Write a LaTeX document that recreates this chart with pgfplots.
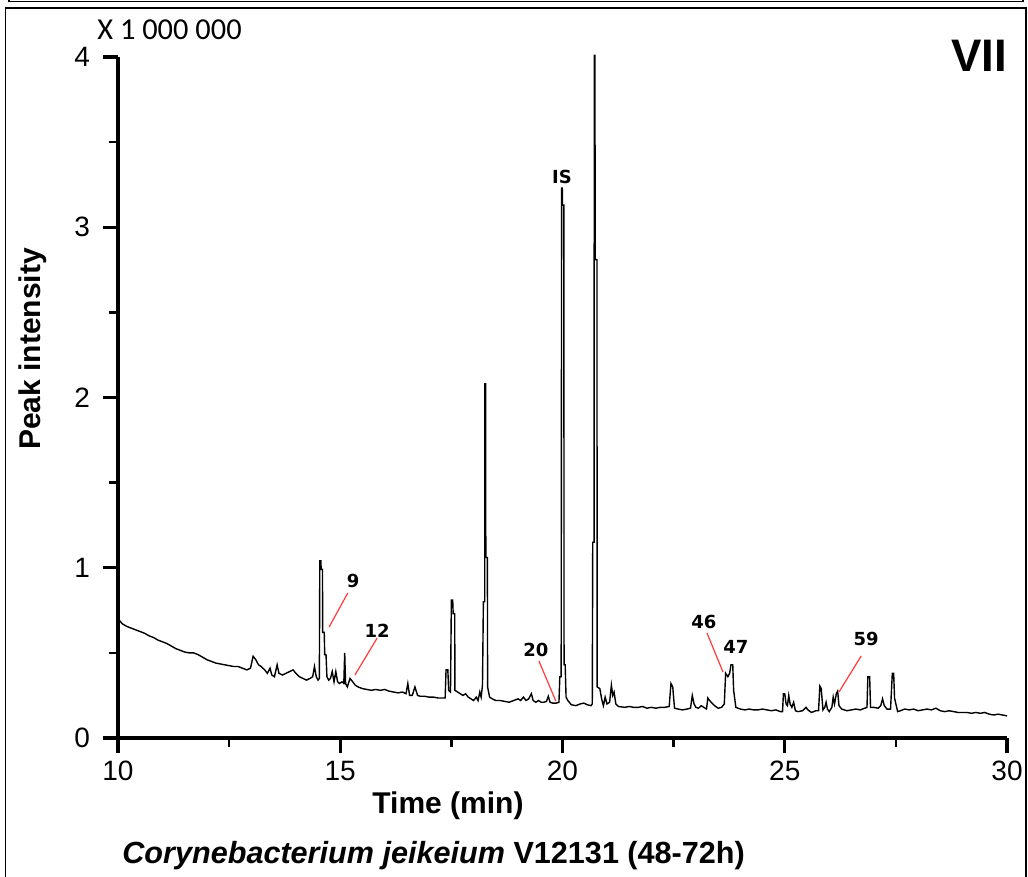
\documentclass[border=0pt]{standalone}
\usepackage{fontspec}
\setmainfont{Liberation Sans}
\newfontfamily\carlito{Carlito}
\newfontfamily\dejavu{DejaVu Sans}
\usepackage{pgfplots}
\pgfplotsset{compat=1.18}
\definecolor{annred}{RGB}{255,60,60}
\begin{document}
\begin{tikzpicture}
\useasboundingbox (0,0) rectangle (514pt,438.5pt);
\fill[white] (0,0) rectangle (514pt,438.5pt);
\begin{axis}[
  at={(59pt,69.5pt)}, anchor=south west,
  scale only axis, width=444.5pt, height=340.5pt,
  xmin=10, xmax=30, ymin=0, ymax=4,
  axis lines=left, axis line style={-, line width=1.6pt},
  xtick={10,15,20,25,30}, ytick={0,1,2,3,4},
  minor xtick={12.5,17.5,22.5,27.5}, minor ytick={0.5,1.5,2.5,3.5},
  tick align=outside, tick pos=left,
  major tick length=7.5pt, minor tick length=4.5pt,
  major tick style={line width=1.6pt,black},
  minor tick style={line width=1.2pt,black},
  /pgf/number format/assume math mode=true,
  tick label style={font=\fontsize{14}{16}\selectfont},
  yticklabel style={xshift=-3pt},
  xticklabel style={yshift=-0.5pt},
  clip=false,
]
\addplot[black, line width=0.7pt, mark=none] coordinates {
(10.00,0.70) (10.10,0.67) (10.20,0.655) (10.30,0.645) (10.40,0.635) (10.50,0.625)
(10.60,0.615) (10.70,0.60) (10.80,0.59) (10.90,0.575) (11.00,0.565) (11.10,0.555)
(11.20,0.54) (11.30,0.525) (11.40,0.515) (11.50,0.505) (11.60,0.50) (11.70,0.50)
(11.80,0.49) (11.90,0.475) (12.00,0.46) (12.10,0.45) (12.20,0.44) (12.30,0.435)
(12.40,0.43) (12.50,0.425) (12.60,0.42) (12.70,0.42) (12.80,0.41) (12.90,0.40)
(12.98,0.41) (13.04,0.48) (13.10,0.46) (13.16,0.43) (13.22,0.42) (13.30,0.40)
(13.36,0.38) (13.42,0.41) (13.46,0.37) (13.52,0.36) (13.58,0.43) (13.62,0.38)
(13.70,0.37) (13.78,0.38) (13.86,0.39) (13.94,0.40) (14.00,0.38) (14.08,0.36)
(14.16,0.35) (14.24,0.34) (14.32,0.35) (14.38,0.36) (14.42,0.42) (14.46,0.36)
(14.50,0.34) (14.53,0.35) (14.54,1.04) (14.565,1.04) (14.57,0.99) (14.60,0.99)
(14.605,0.62) (14.64,0.62) (14.65,0.49) (14.68,0.49) (14.70,0.36) (14.74,0.34)
(14.78,0.35) (14.82,0.39) (14.86,0.33) (14.90,0.39) (14.94,0.33) (14.98,0.32)
(15.04,0.33) (15.08,0.32) (15.10,0.50) (15.12,0.32) (15.16,0.30) (15.22,0.35)
(15.28,0.33) (15.34,0.31) (15.40,0.30) (15.50,0.29) (15.60,0.285) (15.70,0.28)
(15.80,0.285) (15.90,0.28) (16.00,0.285) (16.10,0.275) (16.20,0.27) (16.30,0.265)
(16.40,0.27) (16.48,0.26) (16.52,0.32) (16.56,0.25) (16.62,0.25) (16.68,0.30)
(16.74,0.25) (16.80,0.245) (16.90,0.245) (17.00,0.24) (17.10,0.24) (17.20,0.235)
(17.30,0.235) (17.36,0.235) (17.38,0.40) (17.42,0.40) (17.44,0.28) (17.48,0.27)
(17.50,0.81) (17.53,0.81) (17.54,0.73) (17.575,0.73) (17.58,0.28) (17.64,0.27)
(17.70,0.26) (17.76,0.25) (17.82,0.26) (17.88,0.24) (17.94,0.23) (18.00,0.22)
(18.06,0.24) (18.10,0.22) (18.14,0.27) (18.17,0.24) (18.20,0.31) (18.22,0.80)
(18.25,0.80) (18.255,2.08) (18.27,2.08) (18.275,1.06) (18.31,1.06) (18.315,0.30)
(18.36,0.24) (18.42,0.23) (18.50,0.22) (18.60,0.22) (18.70,0.215) (18.80,0.21)
(18.90,0.22) (19.00,0.23) (19.06,0.22) (19.12,0.24) (19.18,0.22) (19.24,0.23)
(19.30,0.26) (19.34,0.22) (19.40,0.21) (19.46,0.22) (19.52,0.21) (19.58,0.21)
(19.64,0.215) (19.68,0.245) (19.72,0.21) (19.78,0.205) (19.86,0.205) (19.92,0.21)
(19.94,0.36) (19.97,0.36) (19.98,3.23) (19.995,3.23) (20.00,3.13) (20.03,3.13)
(20.035,0.43) (20.06,0.43) (20.08,0.24) (20.12,0.22) (20.20,0.195) (20.30,0.19)
(20.40,0.20) (20.48,0.205) (20.56,0.195) (20.64,0.19) (20.67,0.20) (20.68,1.15)
(20.71,1.15) (20.715,4.01) (20.73,4.01) (20.735,2.81) (20.775,2.81) (20.78,0.30)
(20.84,0.29) (20.88,0.23) (20.92,0.19) (20.96,0.24) (21.00,0.20) (21.06,0.21)
(21.10,0.31) (21.13,0.25) (21.16,0.27) (21.20,0.20) (21.26,0.185) (21.40,0.18)
(21.50,0.185) (21.60,0.18) (21.70,0.18) (21.80,0.185) (21.90,0.175) (22.00,0.18)
(22.10,0.175) (22.20,0.18) (22.30,0.18) (22.40,0.185) (22.44,0.32) (22.48,0.30)
(22.52,0.175) (22.60,0.17) (22.70,0.165) (22.80,0.17) (22.88,0.175) (22.92,0.25)
(22.96,0.20) (23.00,0.18) (23.06,0.175) (23.12,0.19) (23.18,0.18) (23.24,0.17)
(23.27,0.235) (23.31,0.22) (23.36,0.205) (23.42,0.19) (23.50,0.175) (23.58,0.18)
(23.64,0.20) (23.67,0.38) (23.72,0.36) (23.76,0.38) (23.79,0.43) (23.83,0.43)
(23.85,0.28) (23.90,0.18) (24.00,0.17) (24.10,0.165) (24.20,0.17) (24.30,0.165)
(24.40,0.165) (24.50,0.17) (24.60,0.165) (24.70,0.16) (24.80,0.165) (24.90,0.155)
(24.95,0.155) (24.97,0.26) (25.00,0.26) (25.03,0.20) (25.06,0.19) (25.09,0.25)
(25.12,0.20) (25.16,0.18) (25.20,0.21) (25.24,0.16) (25.30,0.155) (25.40,0.16)
(25.48,0.18) (25.52,0.165) (25.60,0.15) (25.70,0.16) (25.76,0.16) (25.79,0.305)
(25.82,0.29) (25.86,0.165) (25.90,0.18) (25.93,0.21) (25.96,0.17) (26.00,0.155)
(26.06,0.18) (26.09,0.24) (26.12,0.20) (26.16,0.26) (26.19,0.275) (26.22,0.19)
(26.28,0.17) (26.34,0.165) (26.40,0.16) (26.50,0.165) (26.60,0.17) (26.70,0.165)
(26.80,0.175) (26.85,0.18) (26.87,0.36) (26.91,0.36) (26.93,0.18) (27.00,0.18)
(27.10,0.175) (27.16,0.19) (27.20,0.23) (27.24,0.19) (27.30,0.17) (27.38,0.17)
(27.42,0.38) (27.45,0.38) (27.47,0.235) (27.50,0.20) (27.54,0.155) (27.60,0.16)
(27.70,0.17) (27.80,0.165) (27.90,0.17) (28.00,0.16) (28.10,0.165) (28.20,0.17)
(28.30,0.165) (28.40,0.175) (28.50,0.16) (28.60,0.155) (28.70,0.16) (28.80,0.155)
(28.90,0.15) (29.00,0.15) (29.10,0.15) (29.20,0.145) (29.30,0.15) (29.40,0.145)
(29.50,0.15) (29.60,0.14) (29.70,0.135) (29.80,0.14) (29.90,0.135) (30.00,0.13)
};
% annotations
\begin{scope}[font=\dejavu\bfseries\fontsize{9}{10}\selectfont]
\node at (axis cs:19.99,3.295) {IS};
\node at (axis cs:15.29,0.922) {9};
\node at (axis cs:15.83,0.628) {12};
\node at (axis cs:19.40,0.517) {20};
\node at (axis cs:23.18,0.681) {46};
\node at (axis cs:23.90,0.535) {47};
\node at (axis cs:26.83,0.581) {59};
\end{scope}
\draw[annred, line width=0.6pt] (axis cs:15.17,0.852) -- (axis cs:14.75,0.652);
\draw[annred, line width=0.6pt] (axis cs:15.83,0.587) -- (axis cs:15.33,0.370);
\draw[annred, line width=0.6pt] (axis cs:19.47,0.452) -- (axis cs:19.85,0.217);
\draw[annred, line width=0.6pt] (axis cs:23.25,0.617) -- (axis cs:23.61,0.388);
\draw[annred, line width=0.6pt] (axis cs:26.72,0.482) -- (axis cs:26.22,0.270);
\end{axis}
\begin{scope}[x=0.5pt,y=-0.5pt,shift={(0pt,438.5pt)}]
% frames
\draw[black, line width=0.8pt] (9,-10) -- (9,1.5) -- (1023,1.5) -- (1023,-10);
\draw[black, line width=0.8pt] (5.5,890) -- (5.5,8) -- (1026,8) -- (1026,890);
% texts
\node[font=\bfseries\fontsize{15}{17}\selectfont] at (448,806) {Time (min)};
\node[font=\bfseries\fontsize{15}{17}\selectfont, rotate=90] at (33,349) {Peak intensity};
\node[font=\bfseries\fontsize{15.3}{17}\selectfont, anchor=west, inner sep=0pt] at (122,856) {\textit{Corynebacterium jeikeium} V12131 (48-72h)};
\node[font=\carlito\fontsize{15.2}{17}\selectfont, anchor=west, inner sep=0pt] at (97,30) {X 1 000 000};
\node[font=\bfseries\fontsize{22.8}{24}\selectfont] at (979,56) {VII};
\end{scope}
\end{tikzpicture}
\end{document}
